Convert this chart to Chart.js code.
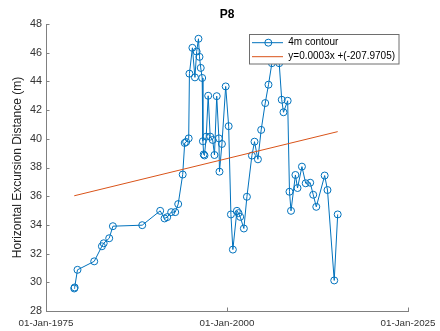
<!DOCTYPE html>
<html><head><meta charset="utf-8">
<script src="https://cdn.jsdelivr.net/npm/chart.js@4.4.0/dist/chart.umd.min.js"></script>
<style>html,body{margin:0;padding:0;background:#fff;}canvas{display:block;}</style>
</head><body>
<canvas id="c" width="440" height="331"></canvas>
<script>
const chartTitle = 'P8';
const yAxisTitle = 'Horizontal Excursion Distance (m)';
const seriesName = '4m contour';
const trendName = 'y=0.0003x +(-207.9705)';
const xTickValues = [1975, 2000, 2025];
const xTickLabels = ['01-Jan-1975', '01-Jan-2000', '01-Jan-2025'];
const yTickValues = [28, 30, 32, 34, 36, 38, 40, 42, 44, 46, 48];
// survey dates as decimal years
const dates = [1978.90, 1978.96, 1979.35, 1981.66, 1982.72, 1982.97, 1983.73, 1984.24, 1988.29, 1990.77,
  1991.37, 1991.74, 1992.29, 1992.85, 1993.26, 1993.88, 1994.16, 1994.36, 1994.71, 1994.81,
  1995.22, 1995.57, 1995.81, 1996.06, 1996.20, 1996.37, 1996.57, 1996.67, 1996.78, 1996.89,
  1997.13, 1997.40, 1997.68, 1998.02, 1998.27, 1998.58, 1998.88, 1998.96, 1999.30, 1999.82,
  2000.23, 2000.54, 2000.81, 2001.37, 2001.59, 2001.82, 2002.33, 2002.75, 2003.44, 2003.80,
  2004.27, 2004.72, 2005.28, 2005.73, 2006.20, 2007.21, 2007.56, 2007.80, 2008.38, 2008.63,
  2008.84, 2009.45, 2009.74, 2010.35, 2010.87, 2011.49, 2011.91, 2012.33, 2013.49, 2013.88,
  2014.81, 2015.29];
const distances = [29.57, 29.64, 30.87, 31.46, 32.51, 32.72, 33.07, 33.91, 33.98, 34.98,
  34.45, 34.54, 34.89, 34.89, 35.45, 37.51, 39.71, 39.78, 40.03, 44.54,
  46.34, 44.28, 46.08, 46.97, 45.71, 44.94, 44.24, 39.83, 38.91, 38.84,
  40.15, 43.00, 40.15, 39.92, 38.87, 42.97, 40.03, 37.71, 39.64, 43.65,
  40.88, 34.73, 32.28, 34.98, 34.82, 34.56, 33.75, 35.96, 38.83, 39.80,
  38.57, 40.62, 42.49, 43.77, 45.27, 45.27, 42.72, 41.85, 42.65, 36.31,
  34.98, 37.48, 36.57, 38.06, 36.90, 36.94, 36.10, 35.26, 37.44, 36.43,
  30.13, 34.73];
// linear trend end values (at first and last survey date)
const trendValues = [36.03, 40.50];

const BLUE = '#0072BD';
const ORANGE = '#D95319';
const FONT = "'Liberation Sans', Arial, Helvetica, sans-serif";

const mainData = dates.map((d, i) => ({x: d, y: distances[i]}));
const trendData = [{x: dates[0], y: trendValues[0]}, {x: dates[dates.length - 1], y: trendValues[1]}];

const decor = {
  id: 'decor',
  afterDraw(chart) {
    const ctx = chart.ctx;
    const a = chart.chartArea;
    const xs = chart.scales.x, ys = chart.scales.y;
    ctx.save();
    // inward tick marks
    ctx.strokeStyle = '#808080';
    ctx.lineWidth = 1;
    ctx.beginPath();
    yTickValues.forEach(v => {
      const y = Math.round(ys.getPixelForValue(v)) + 0.5;
      ctx.moveTo(a.left, y); ctx.lineTo(a.left + 3.5, y);
    });
    xTickValues.forEach(v => {
      const x = Math.round(xs.getPixelForValue(v)) + 0.5;
      ctx.moveTo(x, a.bottom); ctx.lineTo(x, a.bottom - 3.5);
    });
    ctx.stroke();
    // title
    ctx.fillStyle = '#000';
    ctx.font = "bold 12px " + FONT;
    ctx.textAlign = 'center';
    ctx.textBaseline = 'middle';
    ctx.fillText(chartTitle, (a.left + a.right) / 2, 14.5);
    // legend box
    const bx = 249.5, by = 34.5, bw = 149.5, bh = 29.5;
    ctx.fillStyle = '#fff';
    ctx.fillRect(bx, by, bw, bh);
    ctx.strokeStyle = '#6e6e6e';
    ctx.strokeRect(bx, by, bw, bh);
    const r1 = 42.7, r2 = 56.7;
    ctx.lineWidth = 1;
    ctx.strokeStyle = BLUE;
    ctx.beginPath(); ctx.moveTo(252, r1); ctx.lineTo(283, r1); ctx.stroke();
    ctx.beginPath(); ctx.arc(268.3, r1, 3.5, 0, Math.PI * 2); ctx.stroke();
    ctx.strokeStyle = ORANGE;
    ctx.beginPath(); ctx.moveTo(252, r2); ctx.lineTo(283, r2); ctx.stroke();
    ctx.fillStyle = '#000';
    ctx.font = "10px " + FONT;
    ctx.textAlign = 'left';
    ctx.fillText(seriesName, 288.3, r1);
    ctx.fillText(trendName, 288.3, r2);
    ctx.restore();
  }
};

new Chart(document.getElementById('c'), {
  type: 'scatter',
  data: {
    datasets: [
      {
        label: trendName, data: trendData, showLine: true,
        borderColor: ORANGE, borderWidth: 1, pointRadius: 0, order: 0
      },
      {
        label: seriesName, data: mainData, showLine: true,
        borderColor: BLUE, borderWidth: 1, backgroundColor: 'rgba(0,0,0,0)',
        pointRadius: 3.5, pointBorderWidth: 1, pointBorderColor: BLUE,
        pointBackgroundColor: 'rgba(0,0,0,0)', order: 1
      }
    ]
  },
  options: {
    responsive: false, animation: false, devicePixelRatio: 1,
    layout: {padding: {top: 24, right: 32, left: 0, bottom: 0}},
    plugins: {legend: {display: false}, title: {display: false}, tooltip: {enabled: false}},
    scales: {
      x: {
        type: 'linear', min: 1975, max: 2025,
        afterBuildTicks: s => { s.ticks = xTickValues.map(v => ({value: v})); },
        afterFit: s => { s.height = 20; s.paddingLeft = 0; s.paddingRight = 0; },
        grid: {display: false, drawTicks: false},
        border: {display: true, color: '#808080', width: 1},
        ticks: {
          padding: 6, maxRotation: 0, autoSkip: false, color: '#333',
          font: {family: FONT, size: 9.8},
          callback: v => { const i = xTickValues.indexOf(v); return i >= 0 ? xTickLabels[i] : ''; }
        }
      },
      y: {
        min: 28, max: 48,
        afterBuildTicks: s => { s.ticks = yTickValues.map(v => ({value: v})); },
        afterFit: s => { s.width = 46; s.paddingTop = 0; s.paddingBottom = 0; },
        grid: {display: false, drawTicks: false},
        border: {display: true, color: '#808080', width: 1},
        title: {display: true, text: yAxisTitle, color: '#222', font: {family: FONT, size: 12}, padding: {top: 10, bottom: 0}},
        ticks: {padding: 4, color: '#333', font: {family: FONT, size: 10.8}}
      }
    }
  },
  plugins: [decor]
});
</script>
</body></html>
